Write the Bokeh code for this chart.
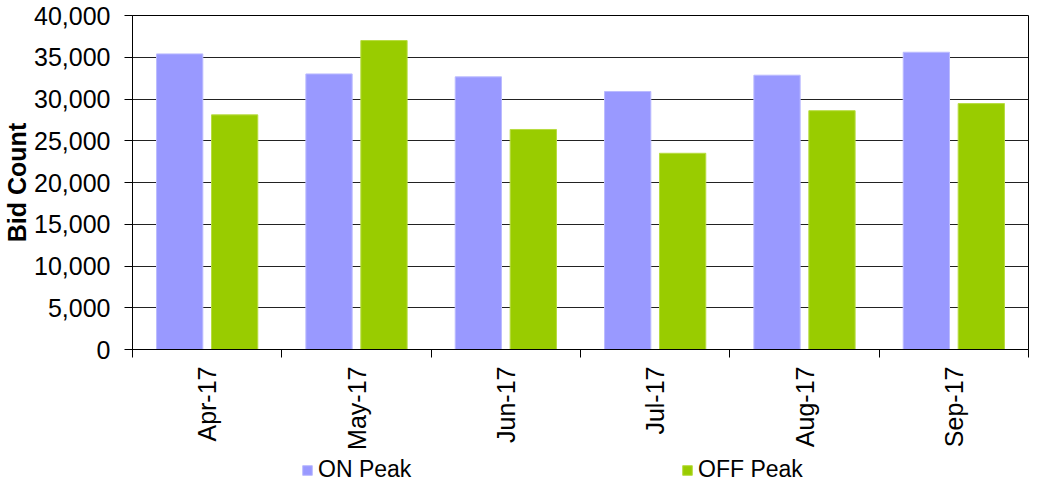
import math
import numpy as np
from bokeh.plotting import figure
from bokeh.layouts import column
from bokeh.models import (Range1d, FixedTicker, NumeralTickFormatter, Legend,
                          LegendItem, ColumnDataSource)
from bokeh.embed import file_html
from bokeh.resources import INLINE

months = ["Apr-17", "May-17", "Jun-17", "Jul-17", "Aug-17", "Sep-17"]
on_peak = [35400, 33000, 32650, 30900, 32850, 35600]
off_peak = [28100, 37000, 26350, 23500, 28600, 29450]
y_ticks = [0, 5000, 10000, 15000, 20000, 25000, 30000, 35000, 40000]
series_names = ["ON Peak", "OFF Peak"]
series_colors = ["#9999FF", "#99CC00"]
series_edges = ["#BBBBFF", "#B8DC40"]

FONT = "Liberation Sans"

centers = np.arange(len(months)) + 0.5
src = ColumnDataSource(dict(x_on=centers - 0.184, x_off=centers + 0.184,
                            on=on_peak, off=off_peak))

p = figure(width=1031, height=452, x_range=Range1d(0, len(months)),
           y_range=Range1d(0, 40000), output_backend="svg",
           toolbar_location=None, min_border_top=15, min_border_right=3,
           min_border_left=126, min_border_bottom=100)

p.vbar(x="x_on", top="on", width=0.31, source=src,
       fill_color=series_colors[0], line_color=series_edges[0], line_width=1)
p.vbar(x="x_off", top="off", width=0.31, source=src,
       fill_color=series_colors[1], line_color=series_edges[1], line_width=1)

# x axis
p.xaxis.ticker = FixedTicker(ticks=list(centers), minor_ticks=list(range(len(months) + 1)))
p.xaxis.major_label_overrides = {float(c): m for c, m in zip(centers, months)}
p.xaxis.major_tick_line_color = None
p.xaxis.minor_tick_line_color = "black"
p.xaxis.minor_tick_out = 8
p.xaxis.minor_tick_in = 0
p.xaxis.major_label_orientation = math.pi / 2
p.xaxis.major_label_standoff = 9
p.xaxis.major_label_text_font = FONT
p.xaxis.major_label_text_font_size = "25px"
p.xaxis.major_label_text_color = "black"
p.xaxis.axis_line_color = "black"

# y axis
p.yaxis.ticker = FixedTicker(ticks=y_ticks)
p.yaxis.formatter = NumeralTickFormatter(format="0,0")
p.yaxis.major_tick_out = 8
p.yaxis.major_tick_in = 0
p.yaxis.minor_tick_line_color = None
p.yaxis.major_label_standoff = 14
p.yaxis.major_label_text_font = FONT
p.yaxis.major_label_text_font_size = "25px"
p.yaxis.major_label_text_color = "black"
p.yaxis.axis_line_color = "black"
p.yaxis.axis_label = "Bid Count"
p.yaxis.axis_label_text_font = FONT
p.yaxis.axis_label_text_font_size = "25px"
p.yaxis.axis_label_text_font_style = "bold"
p.yaxis.axis_label_text_color = "black"
p.yaxis.axis_label_standoff = 0

p.xgrid.visible = False
p.ygrid.ticker = FixedTicker(ticks=y_ticks)
p.ygrid.grid_line_color = "#222222"
p.ygrid.grid_line_width = 1

p.outline_line_color = "black"
p.outline_line_width = 1

# legend strip: a small axis-less figure; its (hidden) series renderers only
# supply the legend swatches
lf = figure(width=1031, height=31, x_range=Range1d(0, len(months)), y_range=Range1d(0, 40000),
            output_backend="svg", toolbar_location=None,
            x_axis_location=None, y_axis_location=None,
            min_border=0, min_border_left=0, min_border_right=0,
            min_border_top=0, min_border_bottom=0)
lf.grid.visible = False
lf.outline_line_color = None
items = []
for name, col, edge, xk, yk in zip(series_names, series_colors, series_edges,
                                   ["x_on", "x_off"], ["on", "off"]):
    r = lf.vbar(x=xk, top=yk, width=0.31, source=src,
                fill_color=col, line_color=edge, line_width=1, visible=False)
    items.append(LegendItem(label=name, renderers=[r]))

legend = Legend(items=items, orientation="horizontal", location=(169, 0),
                spacing=196, glyph_width=12, glyph_height=12, label_standoff=5,
                label_width=167, label_height=24,
                label_text_font=FONT, label_text_font_size="23px",
                label_text_color="black", border_line_color=None,
                background_fill_alpha=0, inactive_fill_alpha=0,
                padding=0, margin=0)
lf.add_layout(legend, "center")

layout = column(p, lf, spacing=0)
open("out.html", "w").write(file_html(layout, INLINE))
